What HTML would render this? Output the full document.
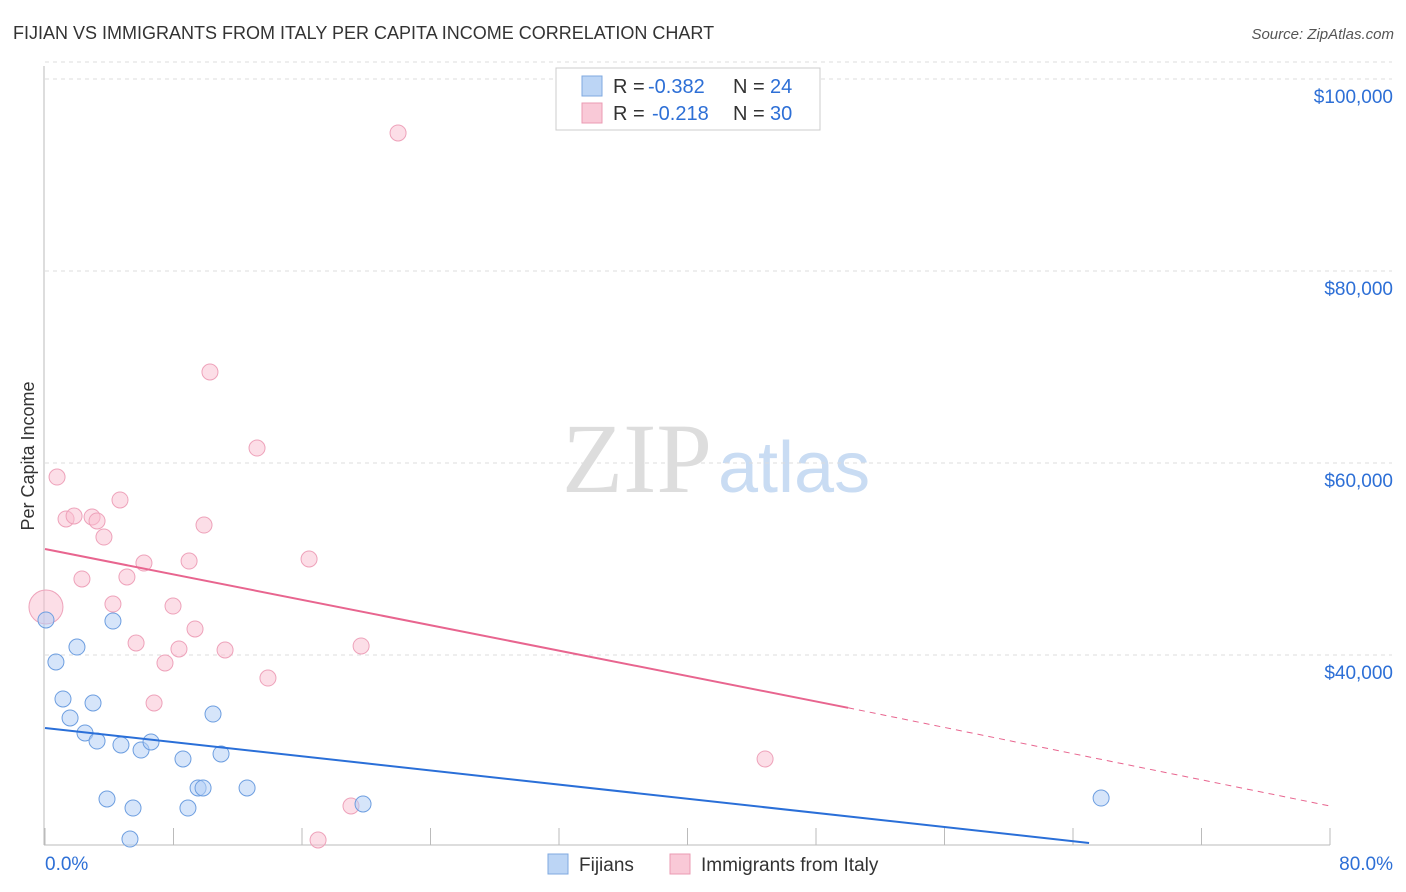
<!DOCTYPE html>
<html><head><meta charset="utf-8"><style>
body{margin:0;background:#fff;font-family:"Liberation Sans",sans-serif;}
#wrap{position:relative;width:1406px;height:892px;overflow:hidden;}
</style></head><body>
<div id="wrap">
<svg id="svg" width="1406" height="892">
<text x="13" y="39" font-size="18" fill="#333">FIJIAN VS IMMIGRANTS FROM ITALY PER CAPITA INCOME CORRELATION CHART</text>
<text x="1394" y="39" font-size="15" fill="#555" text-anchor="end" font-style="italic">Source: ZipAtlas.com</text>
<text x="712" y="492" font-size="100" fill="#ddd" text-anchor="end" font-family="Liberation Serif,serif">ZIP</text>
<text x="718" y="492" font-size="72" fill="#c9dcf3">atlas</text>
<text transform="translate(34,456) rotate(-90)" font-size="18" fill="#333" text-anchor="middle">Per Capita Income</text>
<g id="grid"></g><g id="marks"></g>
<g>
<rect x="556" y="68" width="264" height="62" fill="#fff" stroke="#ccc"/>
<rect x="582" y="76" width="20" height="20" fill="#bcd5f5" stroke="#7fa9e0"/>
<rect x="582" y="103" width="20" height="20" fill="#f9c9d7" stroke="#eb9bb3"/>
<text x="613" y="93" font-size="20" fill="#333">R =</text>
<text x="648" y="93" font-size="20" fill="#2d6fd6">-0.382</text>
<text x="733" y="93" font-size="20" fill="#333">N =</text>
<text x="770" y="93" font-size="20" fill="#2d6fd6">24</text>
<text x="613" y="120" font-size="20" fill="#333">R =</text>
<text x="652" y="120" font-size="20" fill="#2d6fd6">-0.218</text>
<text x="733" y="120" font-size="20" fill="#333">N =</text>
<text x="770" y="120" font-size="20" fill="#2d6fd6">30</text>
</g>
<g>
<rect x="548" y="854" width="20" height="20" fill="#bcd5f5" stroke="#7fa9e0"/>
<text x="579" y="871" font-size="19" fill="#333">Fijians</text>
<rect x="670" y="854" width="20" height="20" fill="#f9c9d7" stroke="#eb9bb3"/>
<text x="701" y="871" font-size="19" fill="#333">Immigrants from Italy</text>
</g>
</svg></div>
<script>
const yTicks=[40000,60000,80000,100000];
const yTickLabels=["$40,000","$60,000","$80,000","$100,000"];
const xTicks=[0,8,16,24,32,40,48,56,64,72,80];
const fijX=[0.06,0.68,1.99,1.12,1.56,2.99,2.49,3.24,4.23,4.73,5.98,6.60,8.59,10.46,10.96,9.53,9.84,12.58,3.86,5.48,8.90,5.29,19.80,65.75];
const fijY=[43650,39270,40830,35420,33440,35000,31880,31040,43540,30630,30100,30940,29170,33850,29690,26150,26150,26150,25000,24060,24060,20830,24480,25100];
const itaX=[0.06,0.75,1.31,1.81,2.93,3.24,3.67,2.30,4.67,5.10,4.23,5.67,6.16,6.79,7.47,7.97,8.34,8.97,9.34,9.90,10.27,11.21,13.20,13.88,16.44,17.00,19.05,19.68,21.98,44.83];
const itaY=[45000,58540,54170,54480,54380,53960,52290,47920,56150,48130,45310,41250,49580,35000,39170,45100,40630,49790,42710,53540,69480,40520,61560,37600,50000,20730,24270,40940,94380,29170];
const fijTrend=[[0,32400],[65,20420]];
const itaTrend=[[0,51040],[50,34500],[80,24270]];
const X=v=>45+v/80*1285;
const Y=v=>1039-v/20000*192;
const NS="http://www.w3.org/2000/svg";
const gridG=document.getElementById('grid'),marksG=document.getElementById('marks');
function mk(tag,at,p){const e=document.createElementNS(NS,tag);for(const k in at)e.setAttribute(k,at[k]);p.appendChild(e);return e;}
let l=mk('line',{x1:44,y1:66,x2:44,y2:845,stroke:'#bbb'},gridG);


l=mk('line',{x1:44,y1:845,x2:1330,y2:845,stroke:'#bbb'},gridG);


yTicks.forEach((t,i)=>{
 const g=mk('line',{x1:45,x2:1392,y1:Y(t),y2:Y(t),stroke:'#ddd','stroke-dasharray':'4,4'},gridG);
 
 
 const tx=mk('text',{x:1393,y:Y(t)+24,'font-size':19,fill:'#2d6fd6','text-anchor':'end'},gridG);
 tx.textContent=yTickLabels[i];
 
 
});
xTicks.forEach(t=>{
 const k=mk('line',{x1:X(t),x2:X(t),y1:828,y2:845,stroke:'#bbb'},gridG);
 
 
});
let t0=mk('text',{x:45,y:870,'font-size':19,fill:'#2d6fd6'},gridG);
t0.textContent=xTicks[0].toFixed(1)+'%';


let t1=mk('text',{x:1393,y:870,'font-size':19,fill:'#2d6fd6','text-anchor':'end'},gridG);
t1.textContent=xTicks[xTicks.length-1].toFixed(1)+'%';


itaX.forEach((x,i)=>{
 const c=mk('circle',{cx:X(x),cy:Y(itaY[i]),r:i==0?17:8,fill:'rgba(249,190,208,0.5)',stroke:'#eea2ba','stroke-width':1},marksG);
 
 
});
fijX.forEach((x,i)=>{
 const c=mk('circle',{cx:X(x),cy:Y(fijY[i]),r:8,fill:'rgba(180,208,245,0.55)',stroke:'#6d9ee0','stroke-width':1},marksG);
 
 
});
let tl=mk('line',{x1:X(fijTrend[0][0]),y1:Y(fijTrend[0][1]),x2:X(fijTrend[1][0]),y2:Y(fijTrend[1][1]),stroke:'#2a6fd8','stroke-width':2},marksG);


tl=mk('line',{x1:X(itaTrend[0][0]),y1:Y(itaTrend[0][1]),x2:X(itaTrend[1][0]),y2:Y(itaTrend[1][1]),stroke:'#e8658f','stroke-width':2},marksG);


tl=mk('line',{x1:X(itaTrend[1][0]),y1:Y(itaTrend[1][1]),x2:X(itaTrend[2][0]),y2:Y(itaTrend[2][1]),stroke:'#e8658f','stroke-width':1,'stroke-dasharray':'6,5'},marksG);


const topGrid=mk('line',{x1:45,x2:1392,y1:Y(100000)-17,y2:Y(100000)-17,stroke:'#ddd','stroke-dasharray':'4,4'},gridG);


</script>
</body></html>
